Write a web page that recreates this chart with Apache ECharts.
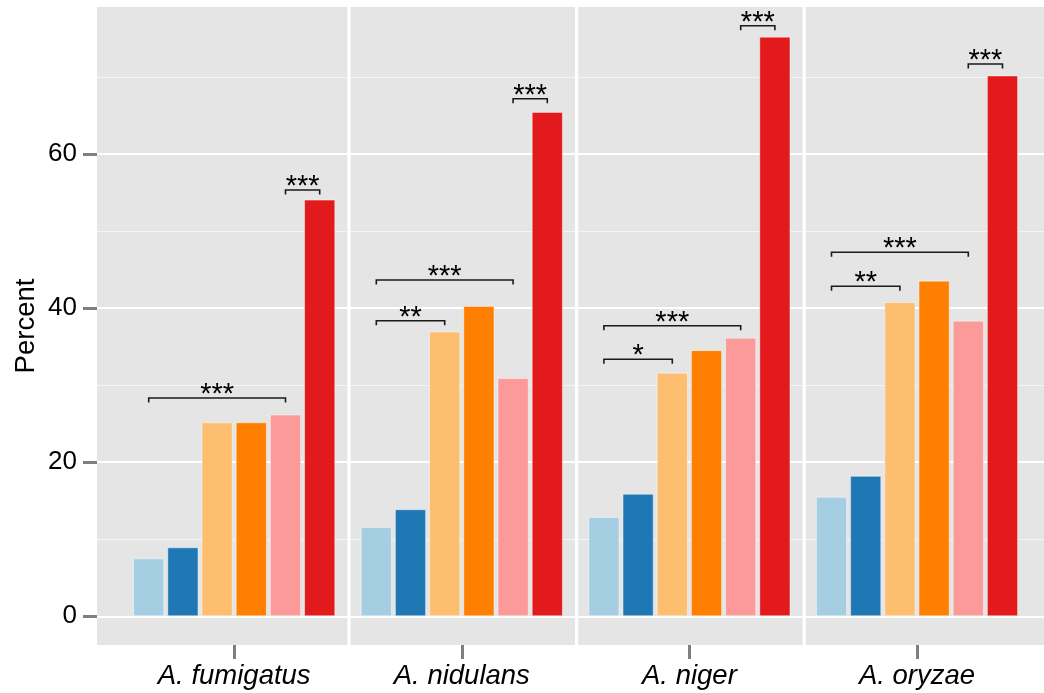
<!DOCTYPE html>
<html>
<head>
<meta charset="utf-8">
<script src="https://cdn.jsdelivr.net/npm/echarts@6/dist/echarts.min.js"></script>
<style>
html,body{margin:0;padding:0;background:#fff;}
#chart{width:1044px;height:693px;}
</style>
</head>
<body>
<div id="chart"></div>
<script>
// ---------- data ----------
const categories = ['A. fumigatus', 'A. nidulans', 'A. niger', 'A. oryzae'];
const yTickValues = [0, 20, 40, 60];
const groupLightBlue  = [7.47, 11.5, 12.8, 15.4];
const groupDarkBlue   = [8.89, 13.8, 15.8, 18.1];
const groupLightOrange= [25.0, 36.7, 31.4, 40.5];
const groupOrange     = [25.0, 40.0, 34.3, 43.25];
const groupPink       = [26.0, 30.7, 35.9, 38.1];
const groupRed        = [53.7, 65.0, 74.7, 69.7];
// significance brackets: [category index, bracket height, from bar, to bar]
const bracketPos = [
  [0, 28.13, 0, 4], [0, 54.94, 4, 5],
  [1, 38.09, 0, 2], [1, 43.34, 0, 4], [1, 66.7, 4, 5],
  [2, 33.12, 0, 2], [2, 37.45, 0, 4], [2, 76.11, 4, 5],
  [3, 42.53, 0, 2], [3, 46.91, 0, 4], [3, 71.17, 4, 5]
];
const bracketLabels = ['***', '***', '**', '***', '***', '*', '***', '***', '**', '***', '***'];

// ---------- styling / layout ----------
const FONT = '"Liberation Sans", Arial, Helvetica, sans-serif';
const colors = ['#A6CEE3', '#1F78B4', '#FDBF6F', '#FF7F00', '#FB9A99', '#E31A1C'];
const groups = [groupLightBlue, groupDarkBlue, groupLightOrange, groupOrange, groupPink, groupRed];
const BAR_W = 31.2, BAR_GAP = 0.096;
const PITCH = BAR_W * (1 + BAR_GAP);
const NBARS = groups.length;

const chart = echarts.init(document.getElementById('chart'), null, {renderer: 'canvas'});

const barSeries = groups.map((g, i) => ({
  type: 'bar',
  name: 'group' + (i + 1),
  xAxisIndex: 1, yAxisIndex: 1,
  data: g,
  barWidth: BAR_W,
  barGap: (BAR_GAP * 100) + '%',
  itemStyle: {color: colors[i], borderColor: 'rgba(255,255,255,0.45)', borderWidth: 1},
  z: 2,
  silent: true
}));

const separatorSeries = {
  type: 'custom',
  xAxisIndex: 1, yAxisIndex: 1,
  data: categories.slice(1).map((_, i) => [i + 1, 0]),
  z: 3, silent: true,
  renderItem(params, api) {
    const c = api.coord([api.value(0), 0]);
    const bw = api.size([1, 0])[0];
    const x = c[0] - bw / 2 + 1;
    const cs = params.coordSys;
    return {
      type: 'line',
      shape: {x1: x, y1: cs.y, x2: x, y2: cs.y + cs.height},
      style: {stroke: '#ffffff', lineWidth: 3.2}
    };
  }
};

const bracketSeries = {
  type: 'custom',
  xAxisIndex: 1, yAxisIndex: 1,
  data: bracketPos,
  z: 4, silent: true,
  renderItem(params, api) {
    const c = api.coord([api.value(0), api.value(1)]);
    const b0 = api.value(2), b1 = api.value(3);
    const mid = (NBARS - 1) / 2;
    const x0 = c[0] + (b0 - mid) * PITCH;
    const x1 = c[0] + (b1 - mid) * PITCH;
    const y = c[1];
    return {
      type: 'group',
      children: [
        {type: 'polyline',
         shape: {points: [[x0, y + 4.5], [x0, y], [x1, y], [x1, y + 4.5]]},
         style: {stroke: '#1a1a1a', lineWidth: 1.6, fill: null}},
        {type: 'text', x: (x0 + x1) / 2, y: y - 3,
         style: {text: bracketLabels[params.dataIndex], fontSize: 29, fontFamily: FONT,
                 fill: '#000', align: 'center', verticalAlign: 'middle'}}
      ]
    };
  }
};

const option = {
  animation: false,
  backgroundColor: '#ffffff',
  textStyle: {fontFamily: FONT},
  grid: [
    {left: 97, right: 0, top: 7, bottom: 48, show: true, backgroundColor: '#e5e5e5', borderWidth: 0, containLabel: false},
    {left: 120.4, right: 13.2, top: 7, bottom: 48, show: false, containLabel: false},
    {left: 97, right: 0, top: -4.5, bottom: 76.7, show: false, containLabel: false}
  ],
  xAxis: [
    {gridIndex: 0, type: 'value', min: 0, max: 1, show: false},
    {gridIndex: 1, type: 'category', data: categories, position: 'bottom',
     axisLine: {show: false, onZero: false},
     axisTick: {show: true, alignWithLabel: true, length: 14, lineStyle: {color: '#7f7f7f', width: 3}},
     axisLabel: {fontSize: 27.5, fontStyle: 'italic', color: '#000', margin: 18, fontFamily: FONT},
     splitLine: {show: false}},
    {gridIndex: 2, type: 'value', min: 0, max: 1, show: false}
  ],
  yAxis: [
    {gridIndex: 0, type: 'value', min: 0, max: 1, show: true,
     axisLine: {show: false}, axisTick: {show: false}, axisLabel: {show: false}, splitLine: {show: false},
     name: 'Percent', nameLocation: 'middle', nameGap: 57,
     nameTextStyle: {fontSize: 27.5, color: '#000', fontFamily: FONT}},
    {gridIndex: 1, type: 'value', min: -3.70, max: 78.52, show: false},
    {gridIndex: 2, type: 'value', min: 0, max: 80, interval: 20,
     axisLine: {show: false},
     axisTick: {show: true, length: 14, lineStyle: {color: '#7f7f7f', width: 3}},
     axisLabel: {fontSize: 26, color: '#000', margin: 20, showMaxLabel: false, fontFamily: FONT,
                 formatter: v => (yTickValues.indexOf(v) >= 0 ? String(v) : '')},
     splitLine: {show: true, lineStyle: {color: '#ffffff', width: 2}},
     minorTick: {show: false, splitNumber: 2},
     minorSplitLine: {show: true, lineStyle: {color: '#f4f4f4', width: 1}}}
  ],
  series: [...barSeries, separatorSeries, bracketSeries]
};
chart.setOption(option);
</script>
</body>
</html>
